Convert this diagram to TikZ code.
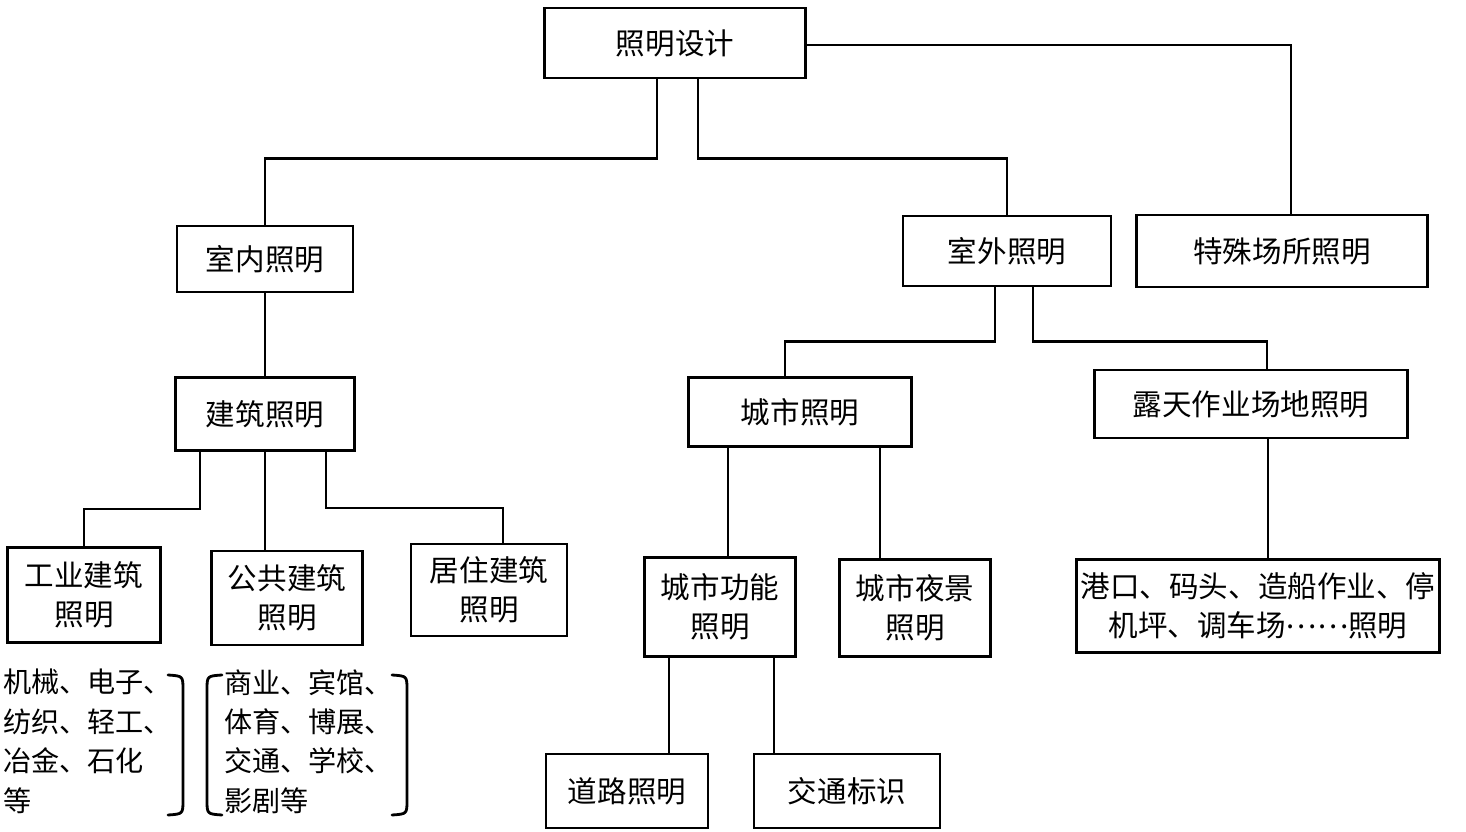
\documentclass[tikz,border=0pt]{standalone}
\usepackage{fontspec}
\setmainfont{Noto Sans CJK SC}
\usetikzlibrary{calc}
\tikzset{
 box/.style={draw, line width=2pt, inner sep=0pt, align=center, font=\fontsize{21}{28}\selectfont},
 link/.style={line width=2pt},
 brace/.style={line width=2pt, line cap=round},
 listtext/.style={anchor=north west, inner sep=0pt, align=left, font=\fontsize{20}{28}\selectfont}
}
\newcommand\cnellipsis{\raisebox{0.3em}{……}}
\begin{document}
\begin{tikzpicture}[x=0.025cm, y=-0.025cm]
\useasboundingbox (0,0) rectangle (1466,832);
\node[box, minimum width=6.53cm, minimum height=1.75cm] (design) at (675,43) {照明设计};
\node[box, minimum width=4.4cm, minimum height=1.65cm] (indoor) at (265,259) {室内照明};
\node[box, minimum width=5.2cm, minimum height=1.75cm] (outdoor) at (1007,251) {室外照明};
\node[box, minimum width=7.28cm, minimum height=1.8cm] (special) at (1282,251) {特殊场所照明};
\node[box, minimum width=4.48cm, minimum height=1.83cm] (building) at (265,414) {建筑照明};
\node[box, minimum width=5.58cm, minimum height=1.73cm] (city) at (800,412) {城市照明};
\node[box, minimum width=7.83cm, minimum height=1.7cm] (openair) at (1251,404) {露天作业场地照明};
\node[box, minimum width=3.83cm, minimum height=2.38cm] (industrial) at (84,595) {工业建筑\\照明};
\node[box, minimum width=3.78cm, minimum height=2.35cm] (public) at (287,598) {公共建筑\\照明};
\node[box, minimum width=3.9cm, minimum height=2.3cm] (resident) at (489,590) {居住建筑\\照明};
\node[box, minimum width=3.78cm, minimum height=2.48cm] (cityfunc) at (720,607) {城市功能\\照明};
\node[box, minimum width=3.78cm, minimum height=2.43cm] (citynight) at (915,608) {城市夜景\\照明};
\node[box, minimum width=9.08cm, minimum height=2.33cm] (port) at (1258,606) {港口、码头、造船作业、停\\机坪、调车场\cnellipsis 照明};
\node[box, minimum width=4.05cm, minimum height=1.85cm] (road) at (627,791) {道路照明};
\node[box, minimum width=4.65cm, minimum height=1.85cm] (traffic) at (847,791) {交通标识};
\node[listtext] (indlist) at (3,669) {机械、电子、\\纺织、轻工、\\冶金、石化\\等};
\node[listtext] (publist) at (224,669) {商业、宾馆、\\体育、博展、\\交通、学校、\\影剧等};

\draw[link] ($(design.south)+(-18,0)$) -- ++(0,79) -| (indoor.north);
\draw[link] ($(design.south)+(23,0)$) -- ++(0,79) -| (outdoor.north);
\draw[link] ($(design.east)+(0,2)$) -| ($(special.north)+(9,0)$);
\draw[link] (indoor.south) -- (building.north);
\draw[link] ($(building.south)+(-65,0)$) -- ++(0,57) -| (industrial.north);
\draw[link] (building.south) -- (building.south |- public.north);
\draw[link] ($(building.south)+(61,0)$) -- ++(0,56) -| ($(resident.north)+(14,0)$);
\draw[link] ($(outdoor.south)+(-12,0)$) -- ++(0,54) -| ($(city.north)+(-15,0)$);
\draw[link] ($(outdoor.south)+(26,0)$) -- ++(0,54) -| ($(openair.north)+(16,0)$);
\draw[link] ($(city.south)+(-72,0)$) -- ($(cityfunc.north)+(8,0)$);
\draw[link] ($(city.south)+(80,0)$) -- ($(citynight.north)+(-35,0)$);
\draw[link] ($(openair.south)+(17,0)$) -- ($(port.north)+(10,0)$);
\draw[link] ($(cityfunc.south)+(-51,0)$) -- ($(road.north)+(42,0)$);
\draw[link] ($(cityfunc.south)+(54,0)$) -- ($(traffic.north)+(-73,0)$);

\draw[brace] (168,675) .. controls (183,676) .. (183,690) -- (183,800) .. controls (183,814) .. (168,815);
\draw[brace] (222,675) .. controls (207,676) .. (207,690) -- (207,800) .. controls (207,814) .. (222,815);
\draw[brace] (392,675) .. controls (407,676) .. (407,690) -- (407,800) .. controls (407,814) .. (392,815);
\end{tikzpicture}
\end{document}
